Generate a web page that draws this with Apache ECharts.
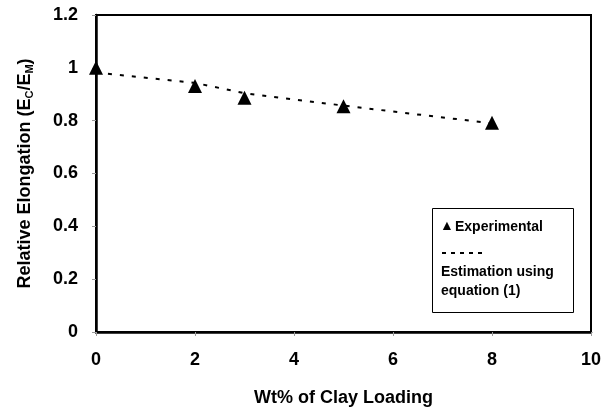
<!DOCTYPE html>
<html>
<head>
<meta charset="utf-8">
<script src="https://cdn.jsdelivr.net/npm/echarts@6/dist/echarts.min.js"></script>
<style>
html,body{margin:0;padding:0;background:#fff;}
#chart{width:613px;height:414px;}
</style>
</head>
<body>
<div id="chart"></div>
<script>
// Data
var loadings = [0, 2, 3, 5, 8];
var experimental = [1.0, 0.931, 0.887, 0.855, 0.792];
var estimation = [0.982, 0.943, 0.904, 0.857, 0.79];
var xTicks = [0, 2, 4, 6, 8, 10];
var yTicks = [0, 0.2, 0.4, 0.6, 0.8, 1, 1.2];

var FONT = '"Liberation Sans", Arial, sans-serif';

function pairs(xs, ys) {
  return xs.map(function (x, i) { return [x, ys[i]]; });
}

var chart = echarts.init(document.getElementById('chart'), null, {renderer: 'canvas'});
chart.setOption({
  animation: false,
  backgroundColor: '#fff',
  grid: {left: 96, right: 22, top: 15, bottom: 82, show: true, borderColor: '#000', borderWidth: 2, backgroundColor: 'transparent'},
  xAxis: {
    type: 'value', min: 0, max: 10, interval: 2,
    name: 'Wt% of Clay Loading', nameLocation: 'middle', nameGap: 57,
    nameTextStyle: {fontFamily: FONT, fontWeight: 'bold', fontSize: 18, color: '#000'},
    axisLine: {show: true, onZero: false, lineStyle: {color: '#000', width: 2.5}},
    axisTick: {show: true, length: 4, lineStyle: {color: '#999', width: 1}},
    splitLine: {show: false},
    axisLabel: {fontFamily: FONT, fontWeight: 'bold', fontSize: 18, color: '#000', margin: 19,
      formatter: function (v) { return xTicks.indexOf(v) >= 0 ? String(v) : ''; }}
  },
  yAxis: {
    type: 'value', min: 0, max: 1.2, interval: 0.2,
    name: 'Relative Elongation (E{sub|C}/E{sub|M})', nameLocation: 'middle', nameGap: 61,
    nameTextStyle: {fontFamily: FONT, fontWeight: 'bold', fontSize: 18, color: '#000',
      rich: {sub: {fontFamily: FONT, fontWeight: 'bold', fontSize: 11, color: '#000', verticalAlign: 'bottom', padding: [8, 0, 0, 0]}}},
    axisLine: {show: true, lineStyle: {color: '#000', width: 2.5}},
    axisTick: {show: true, length: 4, lineStyle: {color: '#999', width: 1}},
    splitLine: {show: false},
    axisLabel: {fontFamily: FONT, fontWeight: 'bold', fontSize: 18, color: '#000', margin: 18,
      formatter: function (v) {
        var t = yTicks.find(function (y) { return Math.abs(y - v) < 1e-6; });
        return t === undefined ? '' : String(t);
      }}
  },
  series: [
    {
      name: 'Estimation using equation (1)', type: 'line',
      data: pairs(loadings, estimation), showSymbol: false, symbol: 'none',
      lineStyle: {color: '#000', width: 2, type: [4, 8]}, z: 2
    },
    {
      name: 'Experimental', type: 'scatter',
      data: pairs(loadings, experimental), symbol: 'triangle', symbolSize: [14, 14],
      itemStyle: {color: '#000', opacity: 1}, z: 3
    }
  ],
  graphic: [
    {type: 'rect', left: 432, top: 208, shape: {width: 141, height: 104},
      style: {fill: '#fff', stroke: '#000', lineWidth: 1}},
    {type: 'text', left: 440, top: 219, style: {text: '▲', font: 'bold 14px ' + FONT, fill: '#000'}},
    {type: 'text', left: 455, top: 220, style: {text: 'Experimental', font: 'bold 14px ' + FONT, fill: '#000'}},
    {type: 'line', shape: {x1: 442, y1: 253, x2: 486, y2: 253},
      style: {stroke: '#000', lineWidth: 2, lineDash: [4, 5]}},
    {type: 'text', left: 441, top: 265, style: {text: 'Estimation using', font: 'bold 14px ' + FONT, fill: '#000'}},
    {type: 'text', left: 441, top: 284, style: {text: 'equation (1)', font: 'bold 14px ' + FONT, fill: '#000'}}
  ]
});
</script>
</body>
</html>
